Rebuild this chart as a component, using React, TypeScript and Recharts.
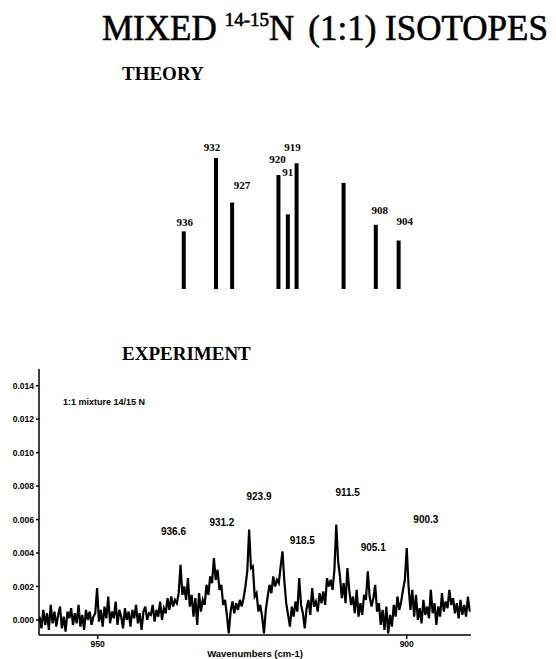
import React from 'react';
import { ComposedChart, Bar, XAxis, YAxis, LabelList, Line, Scatter, Label } from 'recharts';

// theory stick spectrum
const stickLabels = ['936', '932', '927', '920', '91', '919', '', '908', '904'];
const stickPositions = [936.0, 931.2, 928.8, 921.9, 920.5, 919.2, 912.2, 907.4, 904.0];
const stickIntensities = [44, 100, 66, 87, 57, 96, 81, 49, 37];

// experiment trace, sampled every 0.3 cm-1 from 959.4 down, absorbance x 1000
const specStart = 959.4;
const specStep = 0.3;
const absorbanceMilli = [
  0.2, -0.5, 0.6, -0.3, 0.4, -0.6, 0.9, -0.2, 0.5, -0.4,
  0.3, 0.8, -0.5, 0.2, -0.7, 0.5, 0.1, 0.7, -0.3, 0.4,
  -0.2, 0.9, -0.4, 0.3, -0.6, 0.6, 0.0, 0.5, -0.3, 0.2,
  0.4, 1.9, -0.1, 0.6, -0.4, 0.8, 0.1, 1.4, -0.2, 0.5,
  0.1, 1.1, -0.3, 0.6, 0.2, -0.5, 0.7, 0.0, 0.5, -0.4,
  0.6, 0.1, 0.9, -0.2, 0.4, -0.6, 0.5, 0.8, 0.0, 0.4,
  0.3, 0.9, -0.1, 0.6, 0.2, 1.1, 0.0, 0.7, 0.4, 1.3,
  0.6, 1.4, 0.8, 1.2, 1.0, 1.6, 3.3, 1.5, 2.0, 1.2,
  2.5, 0.8, 1.5, 0.2, 1.3, -0.3, 1.6, 0.5, 1.2, 0.9,
  2.1, 1.5, 2.6, 2.2, 3.7, 2.4, 3.0, 1.8, 2.1, 0.9,
  1.2, 0.3, -0.8, 0.5, 1.1, 0.4, 1.0, 0.6, 1.2, 0.8,
  1.3, 2.0, 2.9, 5.4, 3.1, 3.2, 1.4, 1.6, 0.5, 0.9,
  0.2, -0.8, 0.6, 1.4, 2.1, 1.6, 2.6, 2.0, 2.4, 2.2,
  3.2, 4.1, 2.3, 1.0, 0.3, -0.4, 0.8, 0.2, 1.1, 0.5,
  2.5, 0.9, 0.4, -0.5, 0.7, 1.2, 0.3, 1.9, 0.8, 1.1,
  0.5, 1.6, 1.0, 1.7, 0.9, 2.5, 2.0, 2.4, 1.8, 3.0,
  5.7, 3.5, 2.6, 1.3, 2.2, 1.0, 3.1, 1.8, 0.9, 1.4,
  0.4, 1.8, 0.2, 1.0, 0.3, 1.5, 1.2, 2.9, 1.4, 0.8,
  1.3, 2.1, 0.5, 1.0, -0.3, 0.6, -0.6, 0.8, -0.8, 0.3,
  -0.4, 0.9, 0.2, 1.4, 0.6, 1.1, 1.8, 2.4, 4.3, 2.0,
  0.6, 1.8, 0.2, 1.5, 0.0, 0.7, -0.2, 1.2, 0.3, 0.8,
  0.1, 1.8, 0.4, 1.0, -0.3, 0.8, 0.2, 1.6, 0.5, 1.1,
  0.7, 1.8, 0.9, 1.3, 0.4, 1.0, 0.1, 1.2, 0.3, 0.9,
  0.2, 1.4, 0.5,
];

const peakLabels = ['936.6', '931.2', '923.9', '918.5', '911.5', '905.1', '900.3'];
const peakHeightsMilli = [3.3, 3.7, 5.4, 4.1, 5.7, 2.9, 4.3];

const yTicks = [0, 0.002, 0.004, 0.006, 0.008, 0.01, 0.012, 0.014];
const xTicks = [950, 900];

const theoryData = stickPositions.map((wn, i) => ({ wn, v: stickIntensities[i], label: stickLabels[i] }));
const spectrum = absorbanceMilli.map((a, i) => ({
  wn: Math.round((specStart - specStep * i) * 10) / 10,
  a: a / 1000,
}));
const peakData = peakLabels.map((label, i) => ({ wn: parseFloat(label), a: peakHeightsMilli[i] / 1000, label }));

// label nudges (px)
const stickLabelOffset: [number, number][] = [
  [1, -8], [-4, -10], [10, -16], [-1, -15], [0, -41], [-4, -15], [0, 0], [4, -13], [6, -18],
];
const peakLabelOffset: Record<string, [number, number]> = {
  '936.6': [-7, -32], '931.2': [8, -35], '923.9': [0, -32], '918.5': [10, -10],
  '911.5': [12, -31], '905.1': [-2, -23], '900.3': [21, -28],
};

const serif = '"Liberation Serif", "Times New Roman", serif';
const sans = '"Liberation Sans", Arial, sans-serif';

const StickLabel = (props: any) => {
  const { x, y, width, index, value } = props;
  if (!value) return null;
  const [dx, dy] = stickLabelOffset[index];
  return (
    <text x={x + width / 2 + dx} y={y + dy} textAnchor="middle" dominantBaseline="middle"
      fontFamily={serif} fontWeight="bold" fontSize={11} fill="#000">
      {value}
    </text>
  );
};

const PeakText = (props: any) => {
  const { cx, cy, payload } = props;
  const [dx, dy] = peakLabelOffset[payload.label];
  return (
    <text x={cx + dx} y={cy + dy} textAnchor="middle" dominantBaseline="middle"
      fontFamily={sans} fontWeight="bold" fontSize={10} fill="#000">
      {payload.label}
    </text>
  );
};

const App = () => {
  return (
    <div style={{ position: 'absolute', left: 0, top: 0, width: 556, height: 659, background: '#fff' }}>
      <div style={{ position: 'absolute', left: 0, top: 100 }}>
        <ComposedChart width={556} height={200} data={theoryData}
          margin={{ top: 39, right: 63, bottom: 11, left: 23 }}>
          <XAxis type="number" dataKey="wn" domain={[890, 960]} reversed hide allowDataOverflow />
          <YAxis type="number" domain={[0, 114.5]} hide allowDataOverflow />
          <Bar dataKey="v" fill="#000" barSize={4} isAnimationActive={false}>
            <LabelList dataKey="label" content={StickLabel} />
          </Bar>
        </ComposedChart>
      </div>

      <div style={{ position: 'absolute', left: 0, top: 360 }}>
        <ComposedChart width={556} height={299} data={spectrum}
          margin={{ top: 9, right: 85, bottom: 0, left: 0 }}>
          <XAxis type="number" dataKey="wn" domain={[889.6, 959.5]} reversed allowDataOverflow
            ticks={xTicks} height={24} tickSize={4} stroke="#000" strokeWidth={1.5}
            tick={{ fontFamily: sans, fontWeight: 'bold', fontSize: 8.5, fill: '#000' }}>
            <Label value="Wavenumbers (cm-1)" position="insideBottom" offset={2}
              style={{ fontFamily: sans, fontWeight: 'bold', fontSize: 9.5, fill: '#000' }} />
          </XAxis>
          <YAxis type="number" dataKey="a" domain={[-0.0009, 0.015]} allowDataOverflow width={39}
            ticks={yTicks} tickSize={3} stroke="#000" strokeWidth={1.5}
            tickFormatter={(v: number) => v.toFixed(3)}
            tick={{ fontFamily: sans, fontWeight: 'bold', fontSize: 8.5, fill: '#000' }} />
          <Line dataKey="a" stroke="#000" strokeWidth={2.2} strokeLinejoin="miter" dot={false} type="linear"
            isAnimationActive={false} />
          <Scatter data={peakData} dataKey="a" shape={PeakText} isAnimationActive={false} />
        </ComposedChart>
      </div>

      <svg width={556} height={659} style={{ position: 'absolute', left: 0, top: 0, pointerEvents: 'none' }}>
        <text x={102} y={40} fontFamily={serif} fontSize={35} fill="#000" stroke="#000" strokeWidth={0.6}>
          MIXED
          <tspan dx={8} dy={-14} fontSize={19}>14-15</tspan>
          <tspan dy={14}>N</tspan>
          <tspan dx={14}>(1:1) ISOTOPES</tspan>
        </text>
        <text x={122} y={80} fontFamily={serif} fontWeight="bold" fontSize={19} fill="#000">THEORY</text>
        <text x={122} y={360} fontFamily={serif} fontWeight="bold" fontSize={19} fill="#000">EXPERIMENT</text>
        <text x={63} y={405} fontFamily={sans} fontWeight="bold" fontSize={9} fill="#000">1:1 mixture 14/15 N</text>
      </svg>
    </div>
  );
};

export default App;
